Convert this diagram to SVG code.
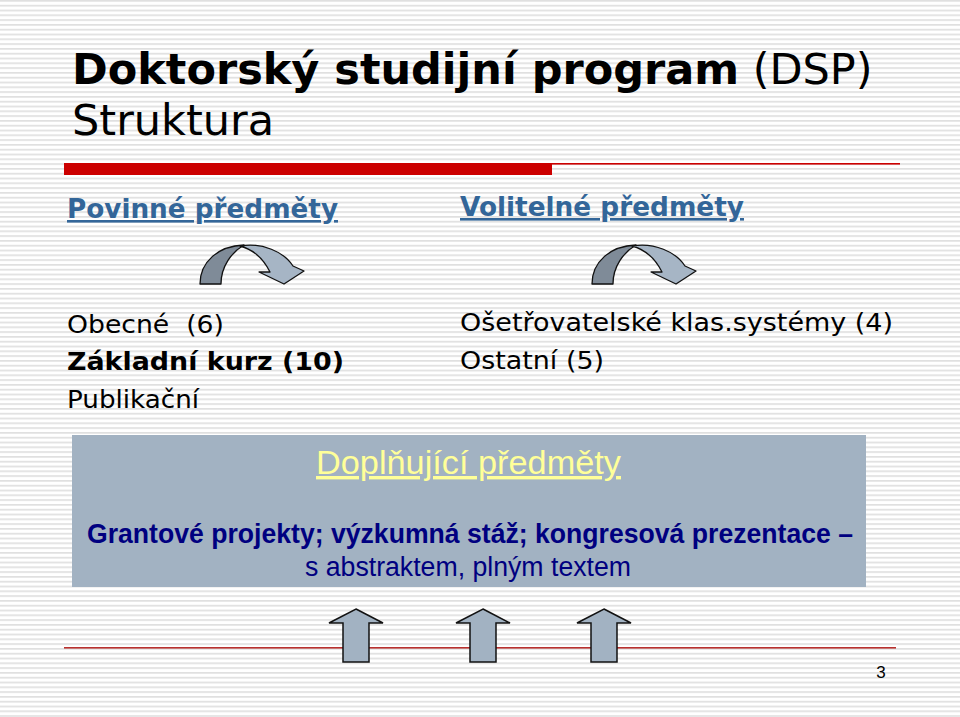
<svg xmlns="http://www.w3.org/2000/svg" xmlns:xlink="http://www.w3.org/1999/xlink" width="960" height="717" viewBox="0 0 960 717">
<defs>
<pattern id="stripes" width="960" height="4.8" patternUnits="userSpaceOnUse">
<rect x="0" y="0" width="960" height="4.8" fill="#ffffff"/>
<rect x="0" y="0" width="960" height="1.7" fill="#e0e0e0"/>
</pattern>
<g id="curve">
<path d="M200,284 C200,262 218,246 244,245 C232,252 221,266 221,284 Z" fill="#7f8b98" stroke="#111" stroke-width="1.3" stroke-linejoin="round"/>
<path d="M240,246 C262,242 284,252 293,266 L304,271 L284,284 L259,272 L270,272 C264,260 255,250 240,246 Z" fill="#a6b5c5" stroke="#111" stroke-width="1.3" stroke-linejoin="round"/>
</g>
<path id="up" d="M0,0 L27,14 L13,14 L13,53 L-13,53 L-13,14 L-27,14 Z" fill="#a2b2c2" stroke="#111" stroke-width="1.5" stroke-linejoin="miter"/>
</defs>
<style>
.v{font-family:"DejaVu Sans",Verdana,sans-serif;}
.a{font-family:"Liberation Sans",Arial,sans-serif;}
.h{font-size:26px;font-weight:bold;fill:#336699;text-decoration:underline;}
.t{font-size:25px;fill:#000;}
</style>
<rect x="0" y="0" width="960" height="717" fill="url(#stripes)"/>

<g id="title">
<text x="72" y="84" class="v" font-size="43" fill="#000"><tspan font-weight="bold">Doktorský studijní program</tspan> (DSP)</text>
<text x="72" y="135" class="v" font-size="43" fill="#000">Struktura</text>
</g>

<g id="rules">
<rect x="64" y="163" width="488" height="12" fill="#cc0000"/>
<rect x="552" y="163" width="348" height="1.6" fill="#cc0000"/>
<rect x="64" y="647" width="832" height="1.6" fill="#b8302e"/>
</g>

<g id="povinne">
<text x="67" y="218" class="v h" textLength="271" lengthAdjust="spacingAndGlyphs">Povinné předměty</text>
</g>
<g id="volitelne">
<text x="460" y="216" class="v h" textLength="284" lengthAdjust="spacingAndGlyphs">Volitelné předměty</text>
</g>

<g id="connectors">
<use xlink:href="#curve"/>
<use xlink:href="#curve" transform="translate(392,0)"/>
<use xlink:href="#up" transform="translate(356,609)"/>
<use xlink:href="#up" transform="translate(483,609)"/>
<use xlink:href="#up" transform="translate(604,609)"/>
</g>

<g id="povinne-list">
<text x="67" y="333" class="v t" xml:space="preserve" textLength="157" lengthAdjust="spacingAndGlyphs">Obecné  (6)</text>
<text x="67" y="370" class="v t" font-weight="bold" textLength="277" lengthAdjust="spacingAndGlyphs">Základní kurz (10)</text>
<text x="67" y="408" class="v t" textLength="132" lengthAdjust="spacingAndGlyphs">Publikační</text>
</g>

<g id="volitelne-list">
<text x="460" y="331" class="v t" textLength="433" lengthAdjust="spacingAndGlyphs">Ošetřovatelské klas.systémy (4)</text>
<text x="460" y="369" class="v t" textLength="144" lengthAdjust="spacingAndGlyphs">Ostatní (5)</text>
</g>

<g id="doplnujici">
<rect x="72" y="435" width="794" height="152" fill="#a2b2c2"/>
<text x="316" y="474" class="a" font-size="34" fill="#ffff99" text-decoration="underline" textLength="305" lengthAdjust="spacingAndGlyphs">Doplňující předměty</text>
<text x="87" y="543" class="a" font-size="28" font-weight="bold" fill="#000080" textLength="766" lengthAdjust="spacingAndGlyphs">Grantové projekty; výzkumná stáž; kongresová prezentace –</text>
<text x="305" y="576" class="a" font-size="27" fill="#000080" textLength="326" lengthAdjust="spacingAndGlyphs">s abstraktem, plným textem</text>
</g>

<g id="page">
<text x="881" y="678" class="a" font-size="17" fill="#000" text-anchor="middle">3</text>
</g>
</svg>
